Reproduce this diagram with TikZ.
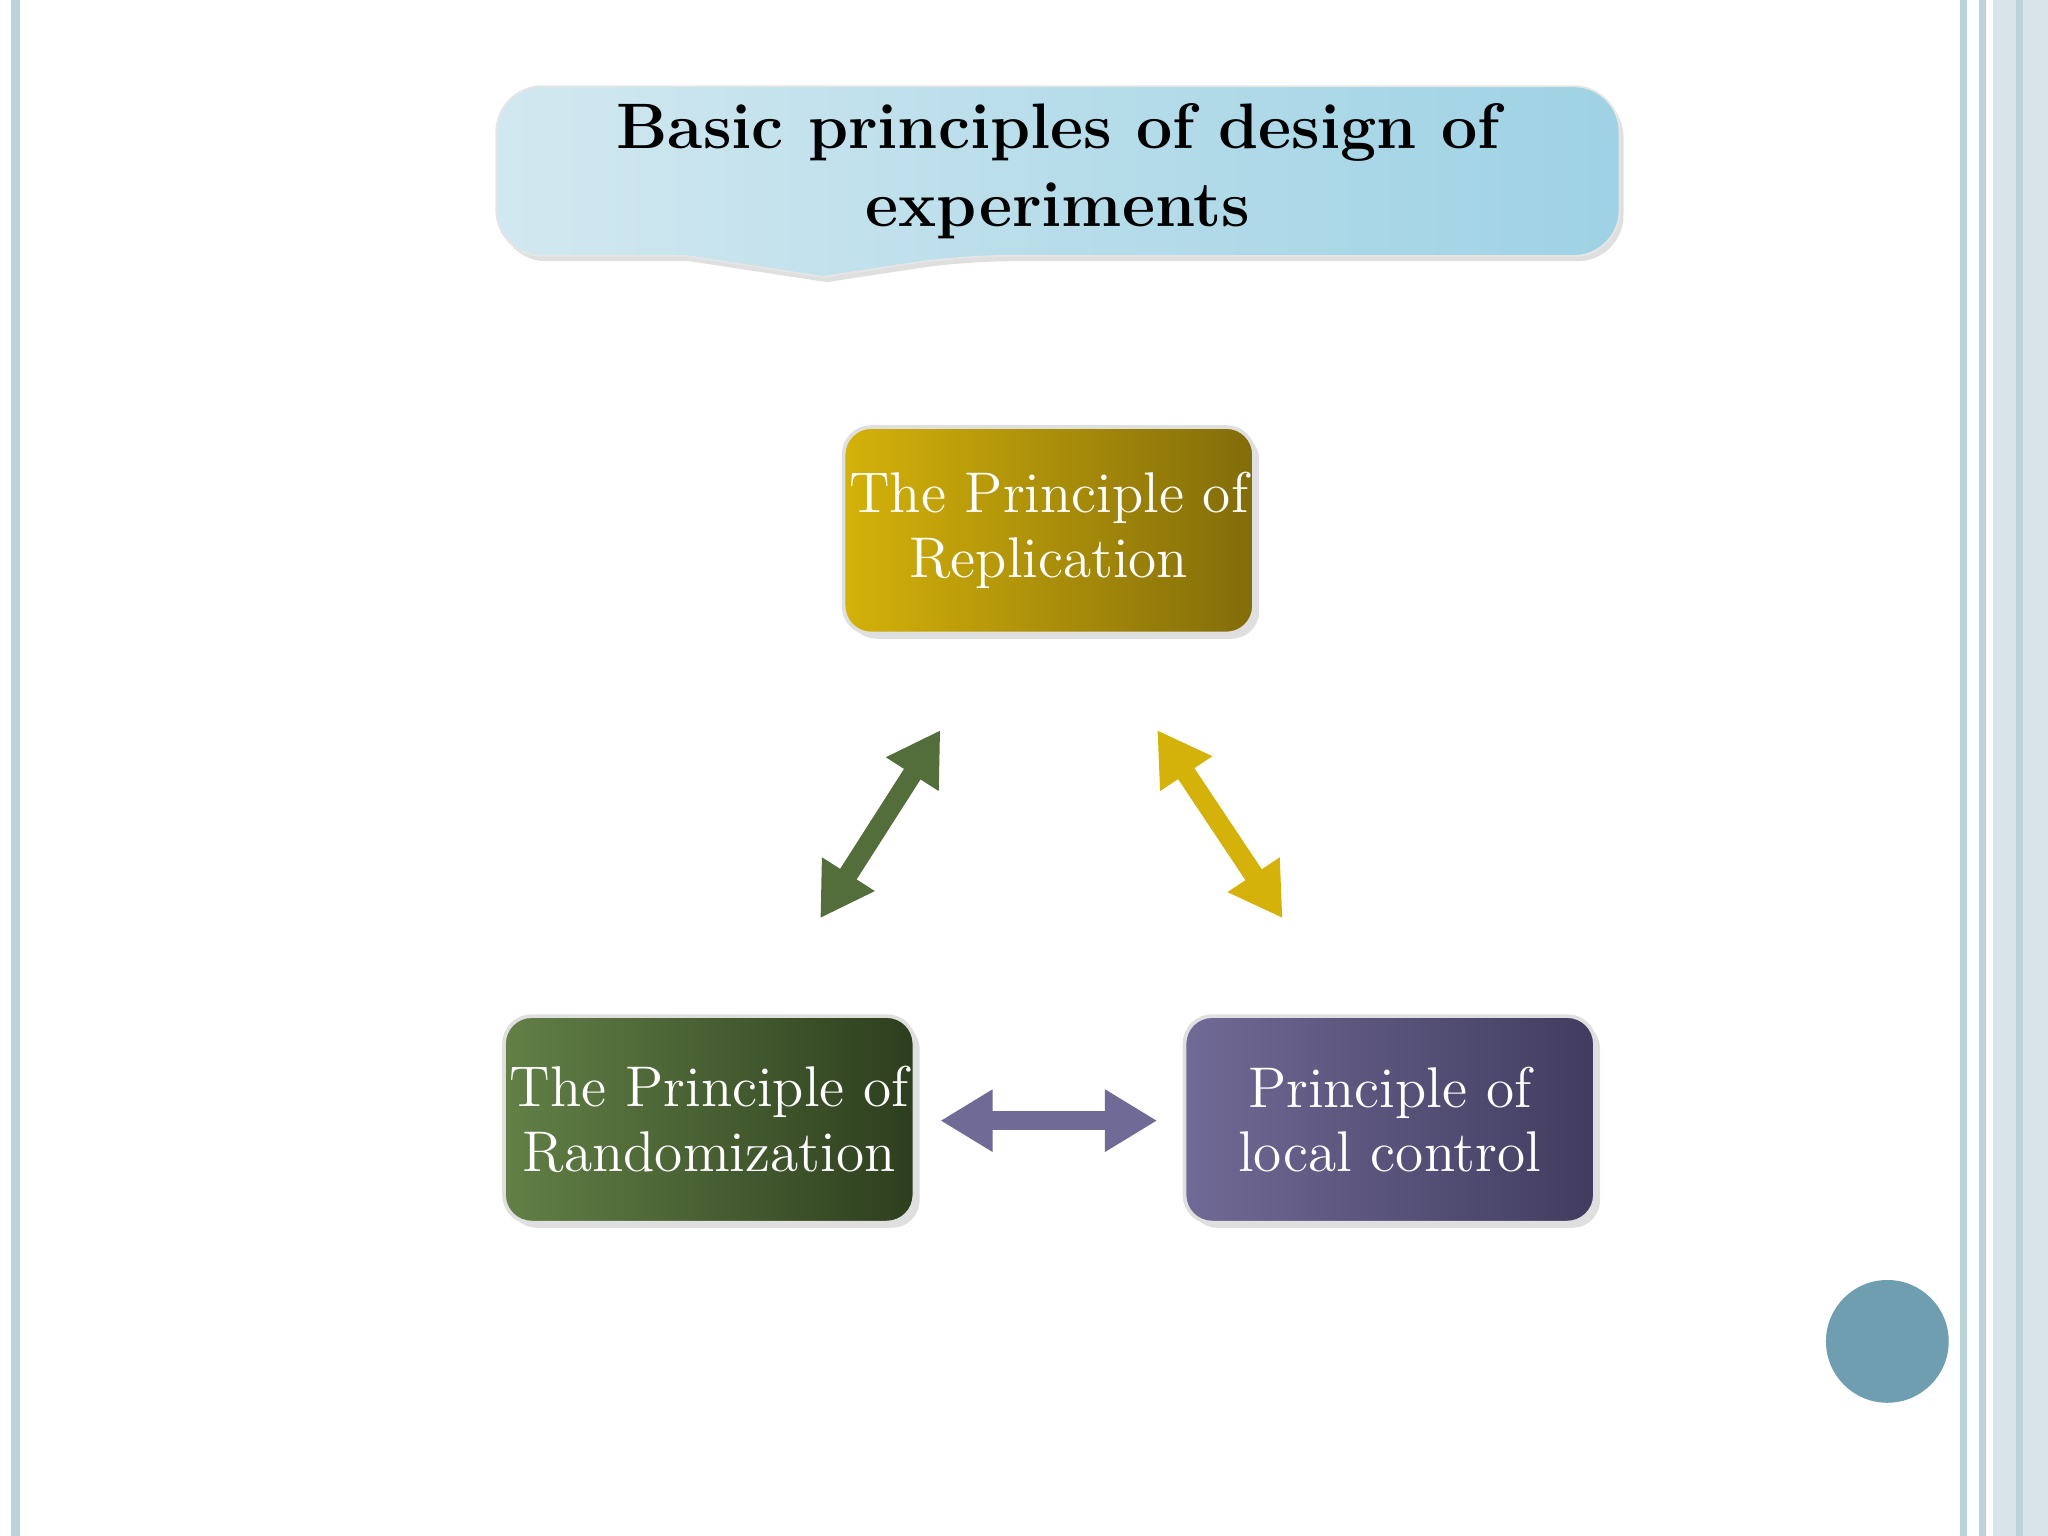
\documentclass[tikz,border=0pt]{standalone}
\usetikzlibrary{arrows.meta,shadows}
\definecolor{gold1}{RGB}{212,178,10}
\definecolor{gold2}{RGB}{130,108,10}
\definecolor{grn1}{RGB}{98,128,70}
\definecolor{grn2}{RGB}{45,62,30}
\definecolor{pur1}{RGB}{112,106,150}
\definecolor{pur2}{RGB}{65,60,95}
\definecolor{ttl1}{RGB}{210,232,240}
\definecolor{ttl2}{RGB}{158,210,228}
\definecolor{bord}{RGB}{190,210,218}
\definecolor{circ}{RGB}{110,158,176}
\begin{document}
\begin{tikzpicture}[x=0.01cm,y=-0.01cm,
  box/.style={rounded corners=6pt,minimum width=3.14cm,minimum height=1.58cm,inner sep=1pt,draw=white!75!gray,line width=0.8pt,
    text=white,align=center,font=\fontsize{12.5}{14}\selectfont,drop shadow={opacity=0.25,shadow xshift=0.04cm,shadow yshift=-0.04cm}},
  dbl/.style={line width=0.15cm,{Triangle[length=0.4cm,width=0.45cm]}-{Triangle[length=0.4cm,width=0.45cm]}}]
\useasboundingbox (0,0) rectangle (1568,1176);
\fill[white] (0,0) rectangle (1568,1176);
% borders
\draw[bord,line width=2pt] (12,0) -- (12,1176);
\draw[bord,line width=1.5pt] (1503,0) -- (1503,1176);
\draw[bord,line width=1.5pt] (1518,0) -- (1518,1176);
\fill[bord!60] (1526,0) rectangle (1568,1176);
\draw[bord,line width=1.5pt] (1546,0) -- (1546,1176);
% title
\shade[left color=ttl1,right color=ttl2,draw=white!80!gray,rounded corners=10pt,drop shadow={opacity=0.25,shadow xshift=0.03cm,shadow yshift=-0.04cm}]
  (380,66) -- (1240,66) -- (1240,196) -- (735,196) [sharp corners]-- (630,212) -- (525,196) [rounded corners=10pt]-- (380,196) -- cycle;
\node[font=\fontsize{14}{17}\selectfont\bfseries,align=center] (title) at (810,131) {Basic principles of design of\\experiments};
% boxes
\node[box,left color=gold1,right color=gold2] (rep) at (803,406) {The Principle of\\Replication};
\node[box,left color=grn1,right color=grn2] (ran) at (543,857) {The Principle of\\Randomization};
\node[box,left color=pur1,right color=pur2] (loc) at (1064,857) {Principle of\\local control};
% arrows
\coordinate (g1) at (628,703); \coordinate (g2) at (720,559);
\coordinate (y1) at (886,559); \coordinate (y2) at (982,703);
\coordinate (p1) at (720,858); \coordinate (p2) at (886,858);
\draw[dbl,grn1!85!black] (g1) -- (g2);
\draw[dbl,gold1] (y1) -- (y2);
\draw[dbl,pur1] (p1) -- (p2);
% circle
\fill[circ] (1445,1027) circle (47);
\end{tikzpicture}
\end{document}
